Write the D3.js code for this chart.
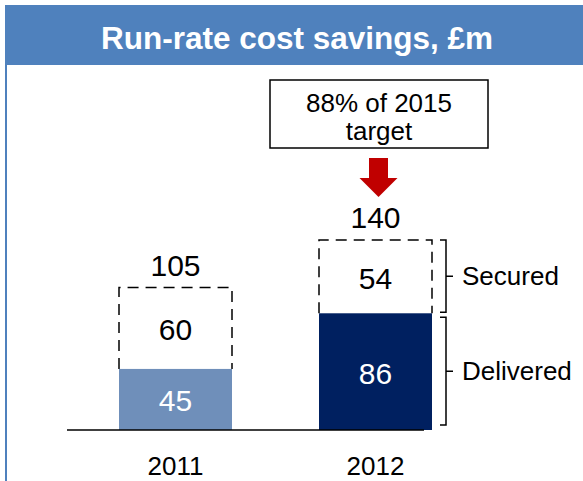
<!DOCTYPE html>
<html><head><meta charset="utf-8">
<script src="https://cdn.jsdelivr.net/npm/d3@7"></script>
<style>body{margin:0;background:#fff}svg{display:block}</style>
</head><body>
<script>
const categories = ["2011", "2012"];
const delivered = [45, 86];
const secured = [60, 54];
const totals = [105, 140];
const deliveredColors = ["#6F8FBA", "#002060"];
const title = "Run-rate cost savings, £m";
const calloutLines = ["88% of 2015", "target"];
const legendLabels = ["Secured", "Delivered"];

const W = 583, H = 481;
const svg = d3.select("body").append("svg").attr("width", W).attr("height", H);
const font = "Arial, 'Liberation Sans', sans-serif";

// frame
svg.append("rect").attr("x", 5).attr("y", 5).attr("width", W).attr("height", 60).attr("fill", "#4F81BD");
svg.append("line").attr("x1", 6).attr("x2", 6).attr("y1", 65).attr("y2", H).attr("stroke", "#4F81BD").attr("stroke-width", 2);
svg.append("text").attr("x", 297).attr("y", 49).attr("text-anchor", "middle")
  .attr("font-family", font).attr("font-weight", "bold").attr("font-size", 31.5).attr("fill", "#fff").text(title);

const x = d3.scaleBand().domain(categories).range([67, 484]).paddingInner(0.435).paddingOuter(0.26);
const y = d3.scaleLinear().domain([0, 140]).range([430, 240]);

const bw = x.bandwidth();
categories.forEach((c, i) => {
  const x0 = x(c);
  const yb = y(delivered[i]), yt = y(totals[i]);
  svg.append("path").attr("d", `M${x0},${yb}V${yt}H${x0 + bw}V${yb}`)
    .attr("fill", "none").attr("stroke", "#000").attr("stroke-width", 1.5).attr("stroke-dasharray", "11,7");
  svg.append("rect").attr("x", x0).attr("y", yb).attr("width", bw).attr("height", y(0) - yb).attr("fill", deliveredColors[i]);
  svg.append("text").attr("x", x0 + bw / 2).attr("y", (yb + y(0)) / 2 + 12).attr("text-anchor", "middle")
    .attr("font-family", font).attr("font-size", 30).attr("fill", "#fff").text(delivered[i]);
  svg.append("text").attr("x", x0 + bw / 2).attr("y", (yb + yt) / 2 + 12).attr("text-anchor", "middle")
    .attr("font-family", font).attr("font-size", 30).attr("fill", "#000").text(secured[i]);
  svg.append("text").attr("x", x0 + bw / 2).attr("y", yt - 12).attr("text-anchor", "middle")
    .attr("font-family", font).attr("font-size", 30).attr("fill", "#000").text(totals[i]);
  svg.append("text").attr("x", x0 + bw / 2).attr("y", 475).attr("text-anchor", "middle")
    .attr("font-family", font).attr("font-size", 26).attr("fill", "#000").text(c);
});

// axis baseline
svg.append("line").attr("x1", 67).attr("x2", 424).attr("y1", y(0)).attr("y2", y(0)).attr("stroke", "#000").attr("stroke-width", 1.5);

// braces for last category
const last = categories.length - 1;
const bx = x(categories[last]) + bw + 8;
function brace(y1, y2, label) {
  const ym = (y1 + y2) / 2;
  svg.append("path").attr("d", `M${bx},${y1}H${bx + 6}V${y2}H${bx}M${bx + 6},${ym}H${bx + 13}`)
    .attr("fill", "none").attr("stroke", "#000").attr("stroke-width", 1.5);
  svg.append("text").attr("x", bx + 22).attr("y", ym + 9).attr("font-family", font).attr("font-size", 26).attr("fill", "#000").text(label);
}
brace(y(totals[last]), y(delivered[last]) - 1, legendLabels[0]);
brace(y(delivered[last]) + 4, y(0) - 5, legendLabels[1]);

// callout
const cx = x(categories[last]) + bw / 2 + 3;
svg.append("rect").attr("x", 270).attr("y", 80).attr("width", 218).attr("height", 68)
  .attr("fill", "#fff").attr("stroke", "#000").attr("stroke-width", 1.5);
calloutLines.forEach((t, i) => {
  svg.append("text").attr("x", 379).attr("y", 112 + i * 28).attr("text-anchor", "middle")
    .attr("font-family", font).attr("font-size", 26).attr("fill", "#000").text(t);
});
// arrow
svg.append("path").attr("d", `M${cx - 9.5},158H${cx + 9.5}V178H${cx + 19}L${cx},197L${cx - 19},178H${cx - 9.5}Z`).attr("fill", "#C00000");
</script>
</body></html>
